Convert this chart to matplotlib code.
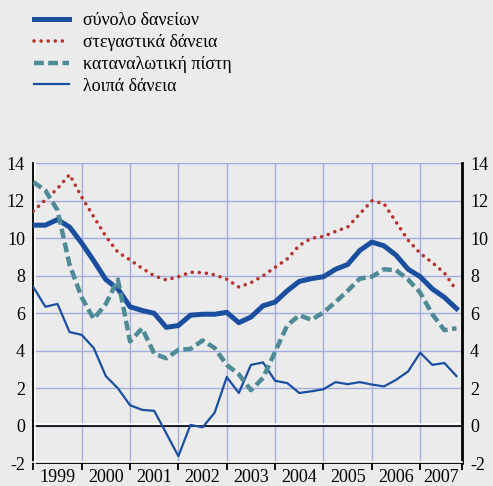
import numpy as np
import matplotlib.pyplot as plt
from matplotlib.transforms import offset_copy

plt.rcParams['font.family'] = ['Liberation Serif', 'DejaVu Serif']

# quarterly data, 1999Q1 - 2007Q4 (annual % change)
years = ['1999', '2000', '2001', '2002', '2003', '2004', '2005', '2006', '2007']
total = [10.7, 10.7, 11.0, 10.6, 9.75, 8.8, 7.8, 7.3, 6.35, 6.15, 6.0, 5.25,
         5.35, 5.9, 5.95, 5.95, 6.05, 5.5, 5.8, 6.4, 6.6, 7.2, 7.7, 7.85,
         7.95, 8.35, 8.6, 9.35, 9.8, 9.6, 9.1, 8.35, 7.95, 7.3, 6.85, 6.25]
housing = [11.45, 12.05, 12.65, 13.4, 12.2, 11.15, 10.1, 9.25, 8.85, 8.4, 8.0, 7.78,
           7.95, 8.19, 8.17, 8.05, 7.82, 7.4, 7.63, 8.0, 8.45, 8.9, 9.62, 10.0,
           10.1, 10.37, 10.6, 11.3, 12.0, 11.85, 10.87, 9.9, 9.2, 8.7, 8.15, 7.22]
consumer = [13.0, 12.55, 11.5, 8.6, 6.85, 5.7, 6.5, 7.8, 4.5, 5.2, 3.85, 3.6,
            4.05, 4.1, 4.55, 4.15, 3.25, 2.75, 1.9, 2.55, 3.95, 5.35, 5.9, 5.65,
            6.05, 6.6, 7.2, 7.85, 7.95, 8.35, 8.3, 7.8, 7.1, 5.95, 5.1, 5.2]
other = [7.4, 6.35, 6.5, 5.0, 4.85, 4.15, 2.65, 2.0, 1.1, 0.85, 0.8, -0.4,
         -1.62, 0.05, -0.08, 0.7, 2.6, 1.75, 3.25, 3.38, 2.4, 2.28, 1.75, 1.84,
         1.95, 2.33, 2.22, 2.33, 2.2, 2.1, 2.45, 2.9, 3.9, 3.25, 3.35, 2.65]
labels = ['σύνολο δανείων', 'στεγαστικά δάνεια', 'καταναλωτική πίστη', 'λοιπά δάνεια']
yticks = [-2, 0, 2, 4, 6, 8, 10, 12, 14]

bg = '#EBEBEB'
blue = '#1A4F9F'
red = '#B3352D'
teal = '#4F8B97'
gridc = '#A3ACE0'
fs = 13

fig = plt.figure(figsize=(4.93, 4.86), dpi=100, facecolor=bg)
ax = fig.add_axes([0.0675, 0.0467, 0.869, 0.6173])
ax.set_facecolor(bg)

q = np.arange(len(total))
xmax = 35.43

l_tot, = ax.plot(q, total, color=blue, lw=3.6, zorder=4)
l_oth, = ax.plot(q, other, color=blue, lw=1.6, zorder=3)
l_hou, = ax.plot(q, housing, color=red, lw=2.6, ls=(0, (0.01, 1.95)),
                 dash_capstyle='round', zorder=3)
l_con, = ax.plot(q, consumer, color=teal, lw=3.2, ls=(0, (2.2, 1.0)), zorder=5)

ax.set_xlim(0, xmax)
ax.set_ylim(-2, 14)

# year boundaries as ticks, year names centred between them
bounds = np.arange(0, len(years) * 4, 4)
ax.set_xticks(list(bounds) + [xmax])
ax.set_xticklabels([])
ax.set_xticks([min(b + 2, (b + xmax) / 2) for b in bounds], minor=True)
ax.set_xticklabels(years, minor=True, fontsize=fs)
ax.tick_params(axis='x', which='major', direction='out', length=5, width=1.3,
               color='black')
ax.tick_params(axis='x', which='minor', length=0, pad=4)
ax.set_yticks(yticks)
ax.set_yticklabels([str(v) for v in yticks], fontsize=fs)
ax.tick_params(axis='y', length=0, labelleft=True, labelright=True, pad=6)

ax.grid(True, which='major', color=gridc, lw=1, zorder=0)
ax.set_axisbelow(True)

# spines / zero line with light edge
ax.spines['top'].set_visible(False)
ax.spines['left'].set_linewidth(1.3)
ax.spines['right'].set_linewidth(2.0)
ax.spines['bottom'].set_linewidth(1.3)
ax.plot([0, 1], [0, 0], color='black', lw=1.2, transform=ax.get_yaxis_transform(),
        zorder=2)
ax.plot([0, 1], [0, 0], color='white', lw=1.2, zorder=2, clip_on=False,
        transform=offset_copy(ax.get_yaxis_transform(), fig=fig, y=1.6, units='dots'))
ax.plot([0, 1], [-2, -2], color='white', lw=1.2, zorder=2.6, clip_on=False,
        transform=offset_copy(ax.get_yaxis_transform(), fig=fig, y=1.6, units='dots'))
ax.plot([0, 0], [0, 1], color='white', lw=1.2, zorder=2.6, clip_on=False,
        transform=offset_copy(ax.get_xaxis_transform(), fig=fig, x=1.6, units='dots'))

fig.legend([l_tot, l_hou, l_con, l_oth], labels, loc='upper left',
           bbox_to_anchor=(0.069, 0.975), frameon=False, fontsize=13,
           handlelength=1.95, handletextpad=0.78, labelspacing=0.27,
           borderpad=0, borderaxespad=0)

fig.savefig('out.png', dpi=100, facecolor=bg)
